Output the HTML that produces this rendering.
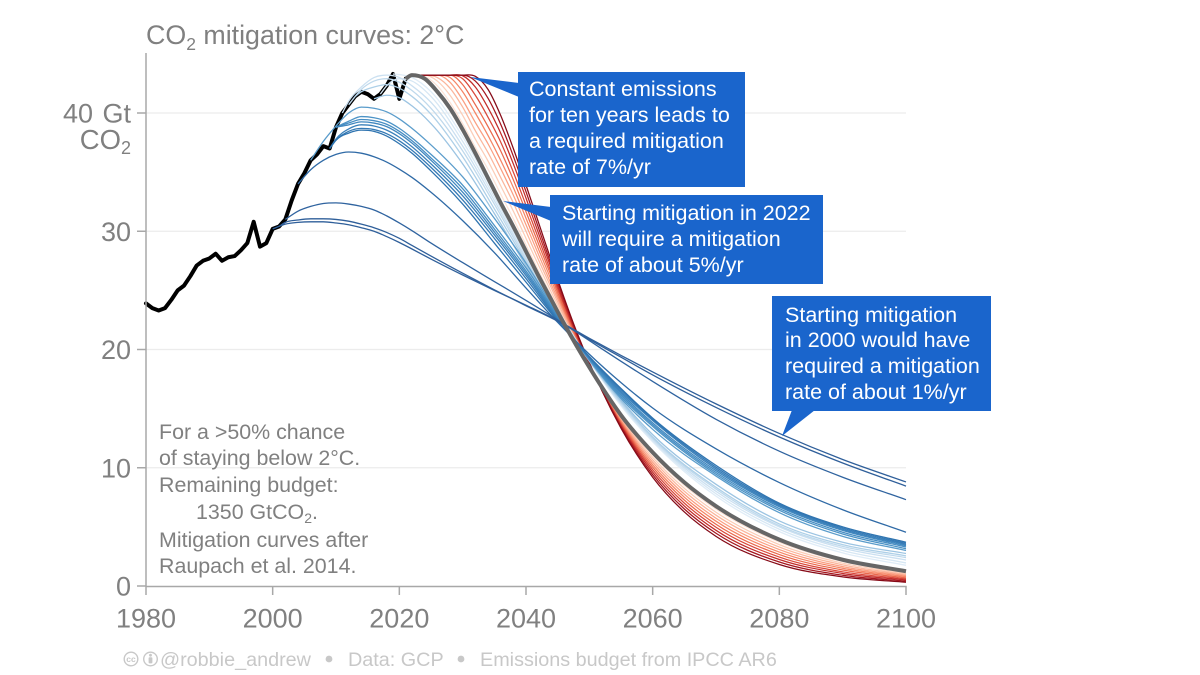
<!DOCTYPE html>
<html lang="en">
<head>
<meta charset="utf-8">
<title>CO2 mitigation curves: 2°C</title>
<style>
html,body{margin:0;padding:0;background:#fff;}
body{width:1200px;height:675px;overflow:hidden;}
svg{display:block;font-family:"Liberation Sans",Arial,sans-serif;}
</style>
</head>
<body>
<svg id="chart" width="1200" height="675" viewBox="0 0 1200 675" xmlns="http://www.w3.org/2000/svg">
  <rect x="0" y="0" width="1200" height="675" fill="#fff"/>
  <text x="146" y="44" font-size="26.8" fill="#808080">CO<tspan font-size="17.5" dy="6">2</tspan><tspan dy="-6"> mitigation curves: 2°C</tspan></text>
  <g id="grid"></g>
  <g id="series"></g>
  <g id="axes"></g>

  <g>
    <polygon points="470,77 519,83 519,97" fill="#1a65cc"/>
    <rect x="518" y="72" width="227" height="115" fill="#1a65cc"/>
    <text font-size="21.5" fill="#fff">
      <tspan x="529" y="96">Constant emissions</tspan>
      <tspan x="529" y="122">for ten years leads to</tspan>
      <tspan x="529" y="148">a required mitigation</tspan>
      <tspan x="529" y="174">rate of 7%/yr</tspan>
    </text>
  </g>
  <g>
    <polygon points="503,201 551,207 551,221" fill="#1a65cc"/>
    <rect x="550" y="195" width="273" height="89" fill="#1a65cc"/>
    <text font-size="21.5" fill="#fff">
      <tspan x="562" y="220">Starting mitigation in 2022</tspan>
      <tspan x="562" y="246">will require a mitigation</tspan>
      <tspan x="562" y="272">rate of about 5%/yr</tspan>
    </text>
  </g>
  <g>
    <polygon points="782,436 792,410 815,410" fill="#1a65cc"/>
    <rect x="772" y="296" width="219" height="115" fill="#1a65cc"/>
    <text font-size="21.5" fill="#fff">
      <tspan x="785" y="322">Starting mitigation</tspan>
      <tspan x="785" y="347">in 2000 would have</tspan>
      <tspan x="785" y="373">required a mitigation</tspan>
      <tspan x="785" y="399">rate of about 1%/yr</tspan>
    </text>
  </g>

  <text font-size="21.4" fill="#808080">
    <tspan x="159" y="439">For a &gt;50% chance</tspan>
    <tspan x="159" y="465">of staying below 2°C.</tspan>
    <tspan x="159" y="492">Remaining budget:</tspan>
    <tspan x="196" y="519">1350 GtCO<tspan font-size="14" dy="4">2</tspan><tspan dy="-4">.</tspan></tspan>
    <tspan x="159" y="547">Mitigation curves after</tspan>
    <tspan x="159" y="573">Raupach et al. 2014.</tspan>
  </text>

  <g fill="#c8c8c8" font-size="19.8">
    <g>
      <circle cx="131" cy="659" r="6.8" fill="none" stroke="#c8c8c8" stroke-width="1.4"/>
      <text x="131" y="662" font-size="8.5" text-anchor="middle" font-weight="bold">cc</text>
    </g>
    <g>
      <circle cx="150.5" cy="659" r="6.8" fill="none" stroke="#c8c8c8" stroke-width="1.4"/>
      <circle cx="150.5" cy="655.2" r="1.4"/>
      <rect x="148.6" y="657.2" width="3.8" height="6.2" rx="1"/>
    </g>
    <text x="160" y="666">@robbie_andrew</text>
    <circle cx="329" cy="659" r="3.4"/>
    <text x="348" y="666">Data: GCP</text>
    <circle cx="461" cy="659" r="3.4"/>
    <text x="480" y="666">Emissions budget from IPCC AR6</text>
  </g>
</svg>

<script>
// Data: emissions in GtCO2/yr
const historyStartYear = 1980;
const historyValues = [23.9,23.5,23.3,23.5,24.2,25.0,25.4,26.2,27.1,27.5,27.7,28.1,27.5,27.8,27.9,28.4,29.0,30.8,28.7,29.0,30.2,30.4,31.0,32.6,34.0,34.9,36.0,36.5,37.2,37.0,38.8,40.0,40.7,41.4,41.8,41.6,41.2,41.6,42.3,43.3,41.2,42.9];

const xTickYears = [1980,2000,2020,2040,2060,2080,2100];
const yTickValues = [0,10,20,30,40];

// Blue curves: values are aligned to the END of blueYears; each begins from history at its start year
const blueYears = [2002,2004,2006,2008,2010,2012,2014,2016,2018,2020,2022,2025,2030,2035,2040,2045,2050,2055,2060,2070,2080,2090,2100];
const blueStartYears = [2000,2001,2002,2004,2009,2009,2009,2010,2010,2010,2006,2016,2013,2012,2011,2017,2019];
const blueA = [30.6,30.75,30.8,30.8,30.7,30.55,30.3,30.0,29.55,29.05,28.5,27.65,26.3,25.0,23.75,22.45,20.95,19.5,18.1,15.4,12.9,10.7,8.8];
const blueB = [30.75,30.95,31.05,31.05,31.0,30.85,30.6,30.3,29.9,29.4,28.8,27.9,26.45,25.05,23.7,22.4,20.85,19.35,17.85,15.1,12.6,10.4,8.45];
const blueC = [31.7,32.1,32.35,32.4,32.3,32.1,31.8,31.3,30.7,30.05,29.0,27.35,25.75,24.15,22.5,20.75,19.0,17.3,14.1,11.4,9.2,7.3];
const blueD = [35.2,36.0,36.5,36.7,36.6,36.3,35.85,35.25,34.55,33.3,30.9,28.2,25.2,22.3,19.6,17.2,15.05,11.6,8.75,6.45,4.55];
const blueE = [37.7,38.3,38.55,38.45,38.05,37.4,36.6,35.1,32.3,29.0,25.7,22.4,19.4,16.7,14.2,10.2,7.0,5.0,3.7];
const blueF = [37.7,38.45,38.7,38.6,38.25,37.65,36.85,35.4,32.65,29.4,26.0,22.5,19.35,16.6,14.1,10.05,6.9,4.9,3.6];
const blueG = [37.8,38.65,39.0,38.9,38.55,37.95,37.15,35.7,33.0,29.7,26.25,22.6,19.3,16.45,14.0,9.9,6.8,4.8,3.5];
const blueH = [39.0,39.25,39.15,38.85,38.25,37.45,36.0,33.3,29.95,26.45,22.7,19.25,16.3,13.8,9.75,6.7,4.7,3.4];
const blueI = [39.15,39.45,39.35,39.05,38.45,37.65,36.2,33.6,30.2,26.65,22.8,19.2,16.15,13.65,9.6,6.55,4.55,3.3];
const blueJ = [39.3,39.7,39.6,39.3,38.7,37.9,36.5,33.9,30.5,26.9,22.9,19.15,16.0,13.5,9.45,6.4,4.4,3.15];
const blueK = [37.6,38.9,40.0,40.5,40.4,40.1,39.5,38.7,37.3,34.6,31.1,27.3,23.0,19.1,15.85,13.25,9.3,6.2,4.2,3.0];
const blueL = [41.5,41.3,40.6,39.1,35.7,31.5,27.1,23.1,19.05,15.7,12.8,8.6,5.5,3.7,2.75];
const blueM = [41.8,42.2,42.4,42.1,41.4,39.9,36.3,31.9,27.4,23.15,19.05,15.6,12.6,8.35,5.25,3.5,2.55];
const blueN = [42.0,42.7,42.9,42.6,41.9,40.4,36.8,32.3,27.6,23.2,19.05,15.5,12.5,8.2,5.1,3.35,2.4];
const blueO = [41.0,42.2,43.0,43.2,43.0,42.3,40.9,37.2,32.6,27.8,23.25,19.05,15.4,12.4,8.0,5.0,3.2,2.2];
const blueP = [42.3,42.9,42.7,41.4,37.6,32.9,28.0,23.3,19.05,15.35,12.3,7.8,4.8,3.0,1.95];
const blueQ = [43.25,43.0,41.8,38.0,33.2,28.3,23.4,19.05,15.25,12.2,7.6,4.6,2.8,1.75];

// Red curves: constant emissions for 1..10 years, then mitigation
const redYears = [2022,2024,2026,2028,2030,2032,2034,2036,2038,2040,2042,2044,2046,2048,2050,2052,2055,2060,2065,2070,2080,2090,2100];
const red1  = [43.2,43.1,42.3,40.9,39.1,37.1,35.25,33.15,31.05,28.85,26.65,24.55,22.4,20.4,18.55,16.75,14.34,11.09,8.51,6.5,3.71,2.08,1.16];
const red2  = [43.2,43.2,42.7,41.5,39.8,37.8,35.95,33.85,31.7,29.4,27.1,24.85,22.65,20.55,18.6,16.75,14.23,10.88,8.26,6.24,3.5,1.93,1.06];
const red3  = [43.2,43.2,43.0,42.1,40.5,38.5,36.65,34.55,32.4,30.0,27.55,25.2,22.85,20.65,18.6,16.7,14.12,10.67,8.01,5.99,3.29,1.79,0.97];
const red4  = [43.2,43.2,43.2,42.6,41.1,39.2,37.4,35.3,33.05,30.55,28.0,25.5,23.1,20.8,18.65,16.7,14.01,10.46,7.76,5.73,3.08,1.64,0.88];
const red5  = [43.2,43.2,43.2,43.0,41.8,40.0,38.1,36.0,33.7,31.1,28.45,25.85,23.3,20.9,18.7,16.65,13.9,10.25,7.51,5.48,2.87,1.5,0.79];
const red6  = [43.2,43.2,43.2,43.2,42.4,40.7,38.85,36.8,34.35,31.65,28.9,26.2,23.5,21.0,18.75,16.6,13.79,10.04,7.26,5.22,2.66,1.35,0.69];
const red7  = [43.2,43.2,43.2,43.2,42.9,41.5,39.65,37.55,35.0,32.2,29.35,26.5,23.75,21.15,18.8,16.6,13.68,9.83,7.01,4.97,2.45,1.2,0.6];
const red8  = [43.2,43.2,43.2,43.2,43.15,42.2,40.45,38.3,35.7,32.8,29.8,26.85,23.95,21.25,18.8,16.55,13.57,9.62,6.76,4.71,2.24,1.06,0.51];
const red9  = [43.2,43.2,43.2,43.2,43.2,42.7,41.25,39.05,36.35,33.35,30.25,27.15,24.2,21.4,18.85,16.55,13.46,9.41,6.51,4.46,2.03,0.91,0.41];
const red10 = [43.2,43.2,43.2,43.2,43.2,43.1,42.0,39.8,37.0,33.9,30.7,27.5,24.4,21.5,18.9,16.5,13.35,9.2,6.26,4.2,1.82,0.77,0.32];

// Thick grey curve: mitigation starting now
const greyStartYear = 2021;
const greyValues = [43.2,42.9,41.8,40.4,38.6,36.6,34.5,32.4,30.4,28.3,26.2,24.2,22.2,20.3,18.5,16.8,14.45,11.3,8.76,6.75,3.92,2.22,1.25];

const blueSeries = [blueA,blueB,blueC,blueD,blueE,blueF,blueG,blueH,blueI,blueJ,blueK,blueL,blueM,blueN,blueO,blueP,blueQ];
const redSeries = [red1,red2,red3,red4,red5,red6,red7,red8,red9,red10];

const blueColors = ['#2f5f9a','#2f5f9a','#2f639f','#2f6aa6','#2f74b0','#3479b5','#3a80ba','#4087bf','#468dc3','#4c93c6','#5a9ccb','#9cc4e2','#aed0e8','#bfd9ec','#cbe0f1','#d6e7f4','#dfecf7'];
const redColors = ['#fde3d6','#fccdb7','#fbb69c','#fb9f82','#f58666','#ea684c','#d9483a','#c22c29','#a5161f','#860a17'];

const NS = 'http://www.w3.org/2000/svg';
const xScale = yr => 146 + (yr - 1980) * (760 / 120);
const yScale = v => 586 - v * (473 / 40);

function makeEl(tag, parent, attrs) {
  const el = document.createElementNS(NS, tag);
  for (const k in attrs) el.setAttribute(k, attrs[k]);
  parent.appendChild(el);
  return el;
}

function historyAt(year) {
  return historyValues[year - historyStartYear];
}

// Smooth path through knots using Hermite tangents, flat at local extrema
function smoothPath(pts) {
  const px = pts.map(p => xScale(p[0]));
  const py = pts.map(p => yScale(p[1]));
  const n = px.length;
  const m = [];
  for (let i = 0; i < n; i++) {
    if (i === 0) m.push((py[1] - py[0]) / (px[1] - px[0]));
    else if (i === n - 1) m.push((py[n-1] - py[n-2]) / (px[n-1] - px[n-2]));
    else {
      const h0 = px[i] - px[i-1];
      const h1 = px[i+1] - px[i];
      const a = (py[i] - py[i-1]) / h0;
      const b = (py[i+1] - py[i]) / h1;
      m.push(a * b <= 0 ? 0 : (a * h1 + b * h0) / (h0 + h1));
    }
  }
  let d = 'M' + px[0].toFixed(2) + ' ' + py[0].toFixed(2);
  for (let i = 0; i < n - 1; i++) {
    const dx = (px[i+1] - px[i]) / 3;
    d += 'C' + (px[i] + dx).toFixed(2) + ' ' + (py[i] + m[i] * dx).toFixed(2) + ' ' +
         (px[i+1] - dx).toFixed(2) + ' ' + (py[i+1] - m[i+1] * dx).toFixed(2) + ' ' +
         px[i+1].toFixed(2) + ' ' + py[i+1].toFixed(2);
  }
  return d;
}

function curvePoints(startYear, years, values) {
  const pts = [[startYear, historyAt(startYear)]];
  const offset = years.length - values.length;
  values.forEach((v, i) => pts.push([years[i + offset], v]));
  return pts;
}

const gridG = document.getElementById('grid');
const seriesG = document.getElementById('series');
const axesG = document.getElementById('axes');

// Gridlines
yTickValues.filter(v => v > 0).forEach(v => {
  const line = makeEl('line', gridG, {x1: xScale(1980), x2: xScale(2100), y1: yScale(v), y2: yScale(v), stroke: '#ececec', 'stroke-width': 1.2});
  
  
});

// History line (below the curves)
const histPts = historyValues.map((v, i) => xScale(historyStartYear + i).toFixed(2) + ',' + yScale(v).toFixed(2)).join(' ');
const histLine = makeEl('polyline', seriesG, {points: histPts, fill: 'none', stroke: '#000', 'stroke-width': 4, 'stroke-linejoin': 'round', 'stroke-linecap': 'round'});



// Red curves
redSeries.forEach((vals, i) => {
  const p = makeEl('path', seriesG, {d: smoothPath(curvePoints(2021, redYears, vals)), fill: 'none', stroke: redColors[i], 'stroke-width': 1.25});
  
  
});

// Blue curves, lightest first so darker lines sit on top
for (let i = blueSeries.length - 1; i >= 0; i--) {
  const p = makeEl('path', seriesG, {d: smoothPath(curvePoints(blueStartYears[i], blueYears, blueSeries[i])), fill: 'none', stroke: blueColors[i], 'stroke-width': 1.3});
  
  
}

// Thick grey curve
const greyPath = makeEl('path', seriesG, {d: smoothPath(curvePoints(greyStartYear, redYears, greyValues)), fill: 'none', stroke: '#666', 'stroke-width': 4});



// Axes
const yAxis = makeEl('line', axesG, {x1: 146, x2: 146, y1: 53, y2: 586.5, stroke: '#a8a8a8', 'stroke-width': 1.5});


const xAxis = makeEl('line', axesG, {x1: 146, x2: 906.7, y1: 586.5, y2: 586.5, stroke: '#a8a8a8', 'stroke-width': 1.5});



xTickYears.forEach(yr => {
  const t = makeEl('line', axesG, {x1: xScale(yr), x2: xScale(yr), y1: 586.5, y2: 595, stroke: '#a8a8a8', 'stroke-width': 1.5});
  
  
  const l = makeEl('text', axesG, {x: xScale(yr), y: 627.5, 'text-anchor': 'middle', 'font-size': 27, fill: '#808080'});
  l.textContent = yr;
  
  
});

yTickValues.forEach(v => {
  const t = makeEl('line', axesG, {x1: 137, x2: 146, y1: yScale(v), y2: yScale(v), stroke: '#a8a8a8', 'stroke-width': 1.5});
  
  
  const l = makeEl('text', axesG, {x: 131, y: yScale(v) + 9.5, 'text-anchor': 'end', 'font-size': 27, 'word-spacing': '2', fill: '#808080'});
  l.textContent = v === 40 ? '40 Gt' : v;
  
  
});

const unit = makeEl('text', axesG, {x: 131, y: 149, 'text-anchor': 'end', 'font-size': 27.5, fill: '#808080'});


unit.textContent = 'CO';
const unitSub = makeEl('tspan', unit, {'font-size': 18, dy: 5});
unitSub.textContent = '2';
</script>
</body>
</html>
